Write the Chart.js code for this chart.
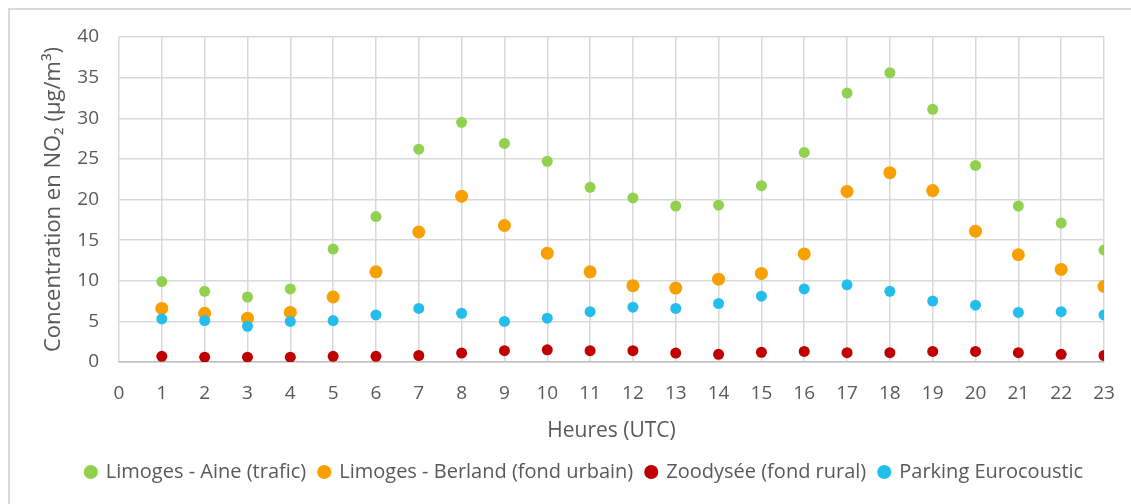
<!DOCTYPE html>
<html><head><meta charset="utf-8">
<script src="https://cdn.jsdelivr.net/npm/chart.js@4.4.1/dist/chart.umd.min.js"></script>
<style>
html,body{margin:0;padding:0;background:#fff;}
#frame{position:absolute;left:8px;top:8px;width:1200px;height:600px;border:2px solid #d9d9d9;}
#wrap{position:absolute;left:0;top:0;width:1131px;height:504px;}
</style></head>
<body>
<div id="frame"></div>
<div id="wrap"><canvas id="c" width="1131" height="504"></canvas></div>
<script>
const hours = [1,2,3,4,5,6,7,8,9,10,11,12,13,14,15,16,17,18,19,20,21,22,23];
const seriesNames = ["Limoges - Aine (trafic)","Limoges - Berland (fond urbain)","Zoodysée (fond rural)","Parking Eurocoustic"];
const aine = [9.9,8.7,8.0,9.0,13.9,17.9,26.2,29.5,26.9,24.7,21.5,20.2,19.2,19.3,21.7,25.8,33.1,35.6,31.1,24.2,19.2,17.1,13.8];
const berland = [6.6,6.0,5.4,6.1,8.0,11.1,16.0,20.4,16.8,13.4,11.1,9.4,9.1,10.2,10.9,13.3,21.0,23.3,21.1,16.1,13.2,11.4,9.3];
const zoodysee = [0.7,0.6,0.6,0.6,0.7,0.7,0.8,1.1,1.4,1.5,1.4,1.4,1.1,0.95,1.2,1.3,1.15,1.15,1.3,1.3,1.15,0.95,0.8];
const parking = [5.3,5.1,4.4,5.0,5.1,5.8,6.6,6.0,5.0,5.4,6.2,6.75,6.6,7.2,8.1,9.0,9.5,8.7,7.5,7.0,6.1,6.2,5.8];
const colors = ['#92D050','#F7A000','#C00000','#25BDEB'];
const radii = [5.5,6.5,5.5,5.5];

function pts(arr){ return hours.map((h,i)=>({x:h,y:arr[i]})); }
const all = [aine,berland,zoodysee,parking];
const datasets = all.map((arr,i)=>({
  label: seriesNames[i],
  data: pts(arr),
  backgroundColor: colors[i],
  borderColor: colors[i],
  borderWidth: 0,
  pointRadius: radii[i],
  pointHoverRadius: radii[i],
  showLine: false,
  order: i>=2 ? 0 : 1
}));

const FONT = "'Open Sans', 'Noto Sans', sans-serif";
const TXT = '#595959';

const shiftLegend = {
  id: 'shiftLegend',
  afterLayout(chart) {
    const lg = chart.legend;
    if (lg) { lg.left += 22; lg.right += 22; }
  }
};

new Chart(document.getElementById('c'), {
  type: 'scatter',
  data: { datasets },
  plugins: [shiftLegend],
  options: {
    responsive: false,
    animation: false,
    layout: { padding: { left: 10, top: 37, right: 16, bottom: 12 } },
    plugins: {
      tooltip: { enabled: false },
      legend: {
        position: 'bottom',
        labels: {
          usePointStyle: true,
          pointStyle: 'circle',
          boxWidth: 10, boxHeight: 10,
          padding: 13,
          color: TXT,
          font: { family: FONT, size: 20 },
          sort: (a,b) => a.datasetIndex - b.datasetIndex
        }
      }
    },
    scales: {
      x: {
        type: 'linear', min: 0, max: 23,
        ticks: { stepSize: 1, color: TXT, font: { family: FONT, size: 19 }, padding: 20 },
        grid: { color: '#D9D9D9', lineWidth: 1.5, drawTicks: false },
        border: { color: '#BFBFBF', width: 1.5 },
        title: { display: true, text: 'Heures (UTC)', color: TXT, font: { family: FONT, size: 21 }, padding: { top: 0, bottom: 5 } },
        afterFit: s => { s.height = 87; s.paddingRight = 27; s.paddingLeft = 0; }
      },
      y: {
        min: 0, max: 40,
        ticks: { stepSize: 5, color: TXT, font: { family: FONT, size: 19 }, padding: 20 },
        grid: { color: '#D9D9D9', lineWidth: 1.5, drawTicks: false },
        border: { display: false },
        title: { display: true, text: 'Concentration en NO₂ (µg/m³)', color: TXT, font: { family: FONT, size: 22 }, padding: { top: 31, bottom: 0 } },
        afterFit: s => { s.width = 109; }
      }
    }
  }
});
</script>
</body></html>
